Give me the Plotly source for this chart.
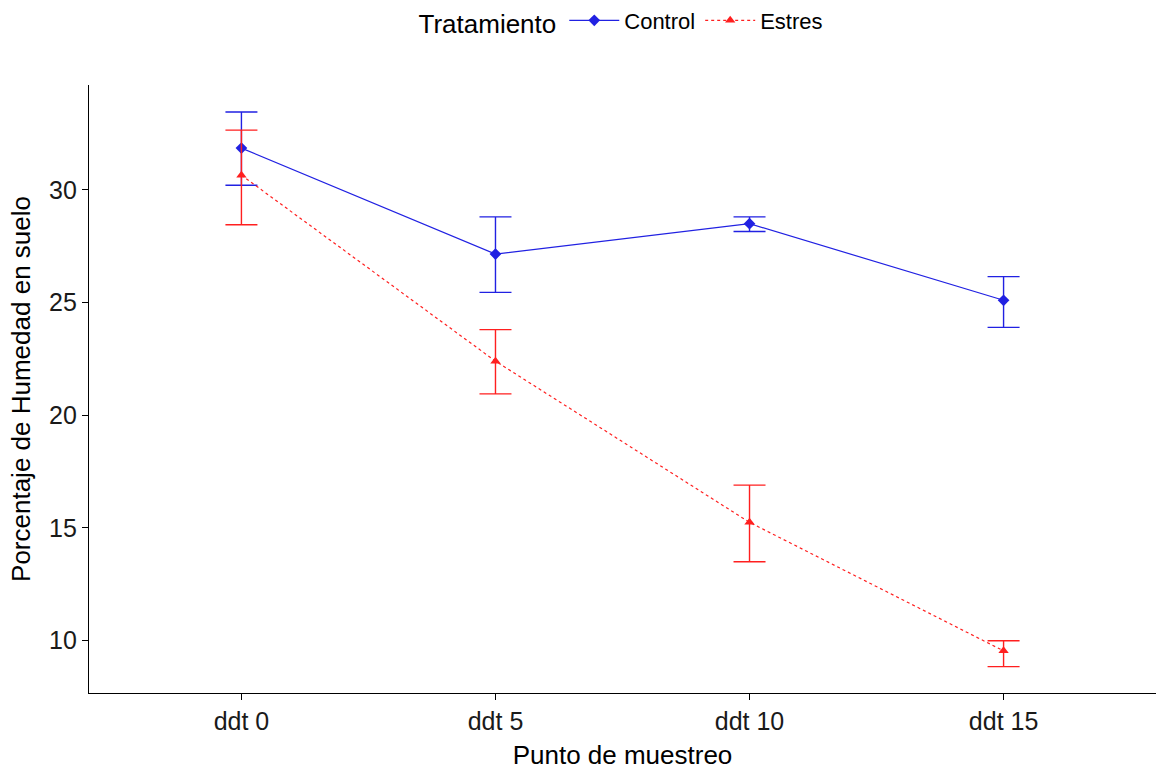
import plotly.graph_objects as go

# Sampling points and treatment summaries (mean with lower/upper error limits)
puntos = ["ddt 0", "ddt 5", "ddt 10", "ddt 15"]

control_media = [31.85, 27.15, 28.5, 25.1]
control_sup = [33.45, 28.8, 28.8, 26.15]
control_inf = [30.2, 25.45, 28.15, 23.9]

estres_media = [30.65, 22.4, 15.25, 9.55]
estres_sup = [32.65, 23.8, 16.9, 10.0]
estres_inf = [28.45, 20.95, 13.5, 8.85]

y_ticks = [10, 15, 20, 25, 30]

AZUL = "#2121E2"
ROJO = "#FF1F1F"


def barras(media, sup, inf):
    return dict(
        type="data",
        symmetric=False,
        array=[s - m for s, m in zip(sup, media)],
        arrayminus=[m - i for m, i in zip(media, inf)],
        thickness=1.4,
        width=16,
    )


fig = go.Figure()
fig.add_trace(go.Scatter(
    x=puntos, y=control_media, name="Control", mode="lines+markers",
    line=dict(color=AZUL, width=1.2),
    marker=dict(symbol="diamond", size=9, color=AZUL),
    error_y=dict(color=AZUL, **barras(control_media, control_sup, control_inf)),
))
fig.add_trace(go.Scatter(
    x=puntos, y=estres_media, name="Estres", mode="lines+markers",
    line=dict(color=ROJO, width=1.2, dash="dot"),
    marker=dict(symbol="triangle-up", size=9, color=ROJO),
    error_y=dict(color=ROJO, **barras(estres_media, estres_sup, estres_inf)),
))

fuente = "Liberation Sans, Arial, sans-serif"

fig.update_layout(
    width=1156, height=770,
    margin=dict(l=89, r=0, t=85, b=77, autoexpand=False),
    paper_bgcolor="white", plot_bgcolor="white",
    font=dict(family=fuente, color="black"),
    showlegend=True,
    legend=dict(
        orientation="h", x=0.5, xanchor="center",
        yref="container", y=0.972, yanchor="middle",
        title=dict(text="Tratamiento", font=dict(size=26, color="black"), side="left"),
        font=dict(size=22, color="black"),
        itemwidth=50,
    ),
    xaxis=dict(
        type="category", range=[-0.6, 3.6],
        showline=True, linecolor="black", linewidth=1.2,
        ticks="outside", ticklen=6, tickcolor="black", tickwidth=1.2,
        tickfont=dict(size=25, color="#1a1a1a"),
        showgrid=False, zeroline=False,
        title=dict(text="Punto de muestreo", font=dict(size=26), standoff=12),
    ),
    yaxis=dict(
        range=[7.68, 34.65], tickvals=y_ticks,
        showline=True, linecolor="black", linewidth=1.2,
        ticks="outside", ticklen=6, tickcolor="black", tickwidth=1.2,
        tickfont=dict(size=25, color="#1a1a1a"),
        showgrid=False, zeroline=False,
        title=dict(text="Porcentaje de Humedad en suelo", font=dict(size=26), standoff=10),
    ),
)

fig.write_html("out.html")
